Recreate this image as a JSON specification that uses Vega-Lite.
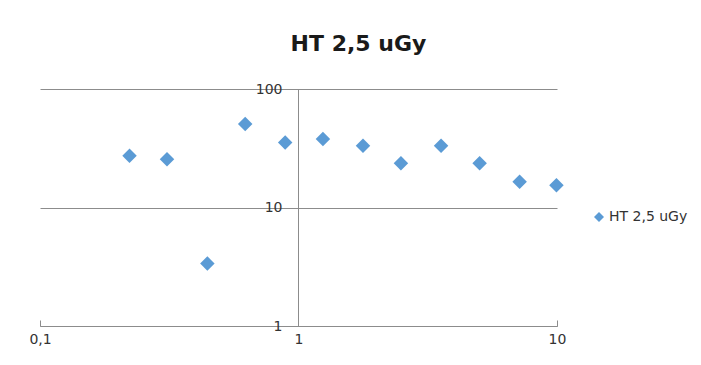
{
  "$schema": "https://vega.github.io/schema/vega-lite/v6.json",
  "autosize": "none",
  "width": 517,
  "height": 237,
  "padding": {"left": 40, "top": 89, "right": 144, "bottom": 39},
  "background": "white",
  "config": {"view": {"stroke": null}, "font": "DejaVu Sans"},
  "title": {"text": "HT 2,5 uGy", "font": "DejaVu Sans", "fontSize": 22, "fontWeight": "bold", "color": "#1a1a1a", "anchor": "middle", "dx": 60, "offset": 9, "baseline": "alphabetic"},
  "data": {"values": [
    {"x": 0.222, "y": 27.3, "series": "HT 2,5 uGy"},
    {"x": 0.31, "y": 25.5, "series": "HT 2,5 uGy"},
    {"x": 0.444, "y": 3.37, "series": "HT 2,5 uGy"},
    {"x": 0.622, "y": 50.6, "series": "HT 2,5 uGy"},
    {"x": 0.888, "y": 35.4, "series": "HT 2,5 uGy"},
    {"x": 1.243, "y": 37.8, "series": "HT 2,5 uGy"},
    {"x": 1.776, "y": 33.2, "series": "HT 2,5 uGy"},
    {"x": 2.49, "y": 23.6, "series": "HT 2,5 uGy"},
    {"x": 3.56, "y": 33.2, "series": "HT 2,5 uGy"},
    {"x": 5.02, "y": 23.6, "series": "HT 2,5 uGy"},
    {"x": 7.17, "y": 16.5, "series": "HT 2,5 uGy"},
    {"x": 9.95, "y": 15.4, "series": "HT 2,5 uGy"}
  ]},
  "mark": {"type": "point", "shape": "diamond", "filled": true, "opacity": 1, "size": 210},
  "encoding": {
    "x": {"field": "x", "type": "quantitative",
      "scale": {"type": "log", "domain": [0.1, 10], "nice": false},
      "axis": {"title": null, "values": [0.1, 1, 10], "labelExpr": "replace(format(datum.value, ''), '.', ',')",
        "grid": false, "domainColor": "#8c8c8c", "tickColor": "#8c8c8c", "tickSize": -6, "labelPadding": 12,
        "labelFontSize": 14, "labelColor": "#333333", "labelFlush": false}},
    "y": {"field": "y", "type": "quantitative",
      "scale": {"type": "log", "domain": [1, 100], "nice": false},
      "axis": {"title": null, "values": [1, 10, 100], "offset": -258, "ticks": false, "labelPadding": 16,
        "grid": true, "gridColor": "#8c8c8c", "domainColor": "#8c8c8c",
        "labelFontSize": 14, "labelColor": "#333333", "labelFlush": false}},
    "color": {"field": "series", "type": "nominal", "scale": {"range": ["#5b9bd5"]},
      "legend": {"title": null, "orient": "none", "legendX": 552, "legendY": 121, "symbolType": "diamond",
        "symbolSize": 100, "labelFontSize": 14, "labelColor": "#333333", "labelOffset": 3}}
  }
}
